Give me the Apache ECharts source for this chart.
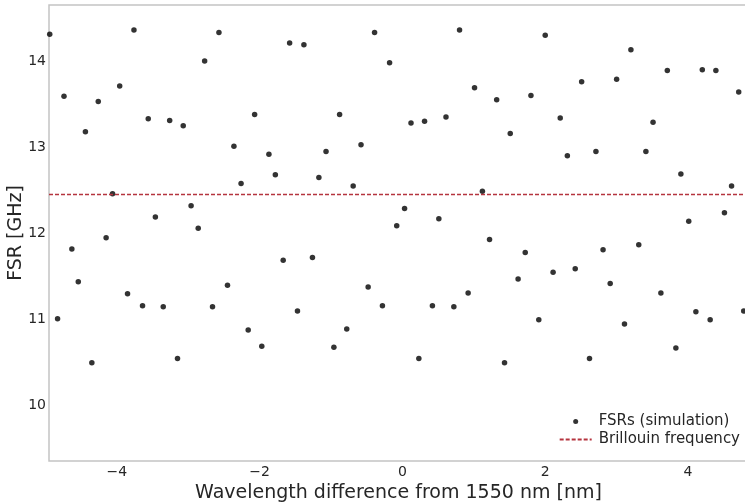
<!DOCTYPE html>
<html>
<head>
<meta charset="utf-8">
<script src="https://cdn.jsdelivr.net/npm/echarts@6/dist/echarts.min.js"></script>
<style>
  html, body { margin: 0; padding: 0; background: #ffffff; }
  #chart { width: 745px; height: 503px; }
</style>
</head>
<body>
<div id="chart"></div>
<script>
// Wavelength offsets (nm) of the simulated resonances
const wavelengthDiff = [
  -4.94, -4.83, -4.74, -4.63, -4.54, -4.44, -4.35, -4.26, -4.15, -4.06,
  -3.96, -3.85, -3.76, -3.64, -3.56, -3.46, -3.35, -3.26, -3.15, -3.07,
  -2.96, -2.86, -2.77, -2.66, -2.57, -2.45, -2.36, -2.26, -2.16, -2.07,
  -1.97, -1.87, -1.78, -1.67, -1.58, -1.47, -1.38, -1.26, -1.17, -1.07,
  -0.96, -0.88, -0.78, -0.69, -0.58, -0.48, -0.39, -0.28, -0.18, -0.08,
   0.03,  0.12,  0.23,  0.31,  0.42,  0.51,  0.61,  0.72,  0.80,  0.92,
   1.01,  1.12,  1.22,  1.32,  1.43,  1.51,  1.62,  1.72,  1.80,  1.91,
   2.00,  2.11,  2.21,  2.31,  2.42,  2.51,  2.62,  2.71,  2.81,  2.91,
   3.00,  3.11,  3.20,  3.31,  3.41,  3.51,  3.62,  3.71,  3.83,  3.90,
   4.01,  4.11,  4.20,  4.31,  4.39,  4.51,  4.61,  4.71,  4.78
];

// Simulated free spectral range (GHz) at each offset
const fsrValues = [
  14.31, 11.01, 13.59, 11.82, 11.44, 13.18, 10.50, 13.53, 11.95, 12.46,
  13.71, 11.30, 14.36, 11.16, 13.33, 12.19, 11.15, 13.31, 10.55, 13.25,
  12.32, 12.06, 14.00, 11.15, 14.33, 11.40, 13.01, 12.58, 10.88, 13.38,
  10.69, 12.92, 12.68, 11.69, 14.21, 11.10, 14.19, 11.72, 12.65, 12.95,
  10.68, 13.38, 10.89, 12.55, 13.03, 11.38, 14.33, 11.16, 13.98, 12.09,
  12.29, 13.28, 10.55, 13.30, 11.16, 12.17, 13.35, 11.15, 14.36, 11.31,
  13.69, 12.49, 11.93, 13.55, 10.50, 13.16, 11.47, 11.78, 13.60, 11.00,
  14.30, 11.55, 13.34, 12.90, 11.59, 13.76, 10.55, 12.95, 11.81, 11.42,
  13.79, 10.95, 14.13, 11.87, 12.95, 13.29, 11.31, 13.89, 10.67, 12.69,
  12.14, 11.09, 13.90, 11.00, 13.89, 12.24, 12.55, 13.64, 11.10
];

// Brillouin frequency shift (GHz)
const brillouinFreq = 12.45;

// Tick positions
const xTicks = [-4, -2, 0, 2, 4];
const yTicks = [10, 11, 12, 13, 14];

const seriesNames = ['FSRs (simulation)', 'Brillouin frequency'];

const points = wavelengthDiff.map((x, i) => [x, fsrValues[i]]);

const fmt = v => (v < 0 ? '\u2212' + Math.abs(v) : String(v));
const FONT = 'DejaVu Sans';
const frameColor = '#c4c4c4';
const textColor = '#262626';
const lineColor = '#b5343f';

const chart = echarts.init(document.getElementById('chart'), null, { renderer: 'canvas' });

chart.setOption({
  backgroundColor: '#ffffff',
  animation: false,
  grid: {
    left: 49, right: -3, top: 5, bottom: 42,
    outerBoundsMode: 'none',
    containLabel: false,
    show: true,
    borderColor: frameColor,
    borderWidth: 1.5,
    backgroundColor: 'transparent'
  },
  xAxis: {
    type: 'value',
    min: -4.95, max: 4.84,
    name: 'Wavelength difference from 1550 nm [nm]',
    nameLocation: 'middle',
    nameGap: 23,
    nameMoveOverlap: false,
    nameTextStyle: { fontFamily: FONT, fontSize: 19, color: textColor },
    axisLine: { show: false },
    axisTick: { show: false, customValues: xTicks },
    splitLine: { show: false },
    axisLabel: {
      customValues: xTicks,
      formatter: fmt,
      fontFamily: FONT, fontSize: 14, color: textColor, margin: 4
    }
  },
  yAxis: {
    type: 'value',
    min: 9.36, max: 14.65,
    name: 'FSR [GHz]',
    nameLocation: 'middle',
    nameGap: 23,
    nameMoveOverlap: false,
    nameRotate: 90,
    nameTextStyle: { fontFamily: FONT, fontSize: 19, color: textColor },
    axisLine: { show: false },
    axisTick: { show: false, customValues: yTicks },
    splitLine: { show: false },
    axisLabel: {
      customValues: yTicks,
      formatter: fmt,
      fontFamily: FONT, fontSize: 14, color: textColor, margin: 3
    }
  },
  legend: {
    right: 0,
    bottom: 51,
    orient: 'vertical',
    align: 'left',
    itemWidth: 32,
    itemHeight: 5,
    itemGap: 3,
    textStyle: { fontFamily: FONT, fontSize: 15, color: textColor, padding: [0, 0, 0, 2] },
    data: [
      { name: seriesNames[0] },
      { name: seriesNames[1], itemStyle: { opacity: 0 } }
    ]
  },
  series: [
    {
      name: seriesNames[0],
      type: 'scatter',
      data: points,
      symbol: 'circle',
      symbolSize: 5.5,
      itemStyle: { color: '#000000' },
      clip: true,
      z: 3
    },
    {
      name: seriesNames[1],
      type: 'line',
      data: [],
      symbol: 'none',
      showSymbol: false,
      lineStyle: { color: lineColor, width: 1.3, type: [4, 2] },
      itemStyle: { color: lineColor },
      markLine: {
        silent: true,
        symbol: 'none',
        label: { show: false },
        lineStyle: { color: lineColor, width: 1.3, type: [4, 2] },
        data: [{ yAxis: brillouinFreq }]
      },
      z: 2
    }
  ]
});
</script>
</body>
</html>
